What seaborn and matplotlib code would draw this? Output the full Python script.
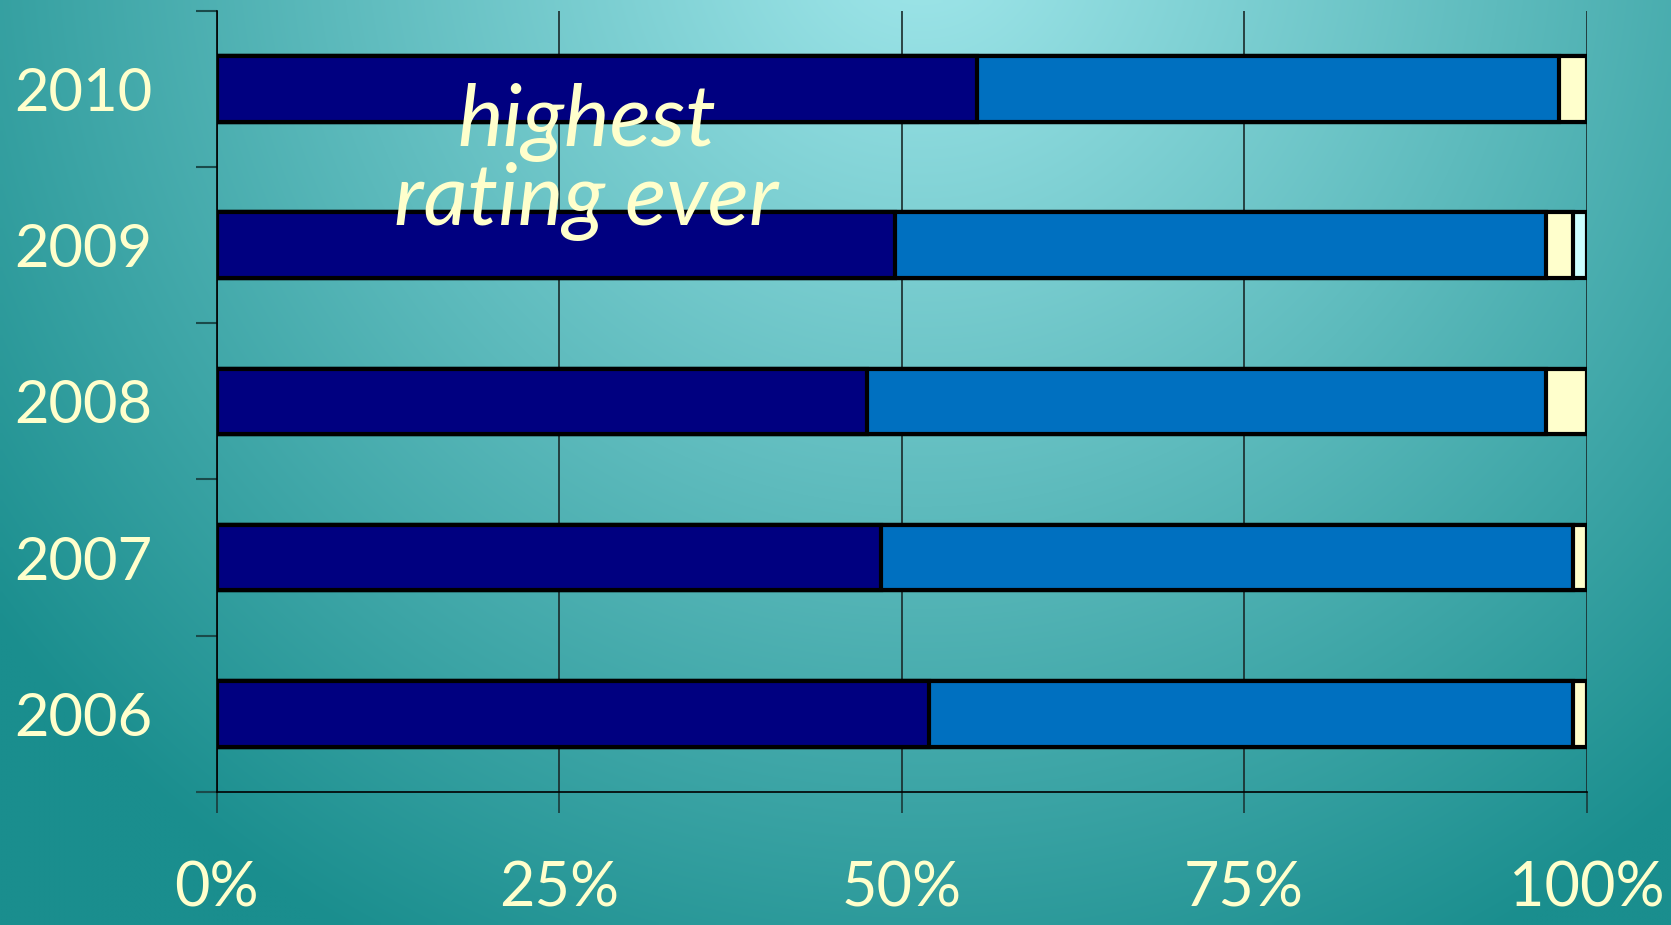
import numpy as np
import pandas as pd
import matplotlib
matplotlib.use("Agg")
import matplotlib.pyplot as plt
from matplotlib.colors import to_rgb
import seaborn as sns

# Survey ratings by year (percent of respondents)
years = ["2010", "2009", "2008", "2007", "2006"]
excellent = [55.5, 49.5, 47.5, 48.5, 52.0]
good = [42.5, 47.5, 49.5, 50.5, 47.0]
fair = [2.0, 2.0, 3.0, 1.0, 1.0]
poor = [0.0, 1.0, 0.0, 0.0, 0.0]
x_ticks = [0, 25, 50, 75, 100]
x_tick_labels = ["0%", "25%", "50%", "75%", "100%"]
note_text = "highest\nrating ever"

seg_colors = ["#000080", "#0070C0", "#FFFFCC", "#CCFFFF"]
text_color = "#FFFFCC"

sns.set_theme(style="white")
plt.rcParams["font.family"] = ["Lato", "DejaVu Sans"]

fig = plt.figure(figsize=(16.71, 9.25), dpi=100)

# Teal radial background, light near the top centre
bg = fig.add_axes([0, 0, 1, 1], zorder=-10)
H, W = 185, 334
yy, xx = np.mgrid[0:H, 0:W]
cx, cy = 0.55 * W, -0.08 * H
d = np.sqrt(((xx - cx) / W * 1.8) ** 2 + ((yy - cy) / H) ** 2)
d = np.clip(d / 1.25, 0, 1)
c0 = np.array(to_rgb("#A2E8EC"))
c1 = np.array(to_rgb("#1A8E8E"))
img = c0[None, None, :] * (1 - d[..., None]) + c1[None, None, :] * d[..., None]
bg.imshow(img, extent=[0, 1, 0, 1], aspect="auto", interpolation="bilinear")
bg.set_axis_off()

ax = fig.add_axes([0.1296, 0.1438, 0.8199, 0.8446])
ax.set_facecolor("none")

df = pd.DataFrame({"year": years, "excellent": excellent, "good": good,
                   "fair": fair, "poor": poor})
segs = ["excellent", "good", "fair", "poor"]
cum = df[segs].cumsum(axis=1)

# Stack by layering cumulative totals, widest first
for i in range(len(segs) - 1, -1, -1):
    col = segs[i]
    sns.barplot(x=cum[col], y=df["year"], order=years, orient="h",
                color=seg_colors[i], saturation=1, width=0.42,
                edgecolor="black", linewidth=3, ax=ax, zorder=3 + (3 - i))

ax.set_xlim(0, 100)
ax.set_ylim(4.5, -0.5)
ax.set_xlabel("")
ax.set_ylabel("")

ax.set_xticks(x_ticks)
ax.set_xticklabels(x_tick_labels)
ax.xaxis.grid(True, color="#1a2a2a", linewidth=1.2, zorder=1)
ax.tick_params(axis="x", which="major", direction="out", length=15, width=1.2,
               color="#1a3a3a", pad=34, labelsize=44, labelcolor=text_color,
               bottom=True)

ax.set_yticks(range(len(years)))
ax.set_yticklabels(years)
ax.set_yticks(np.arange(-0.5, len(years), 1.0), minor=True)
ax.tick_params(axis="y", which="major", length=0, pad=46, labelsize=43,
               labelcolor=text_color)
ax.tick_params(axis="y", which="minor", direction="out", length=15, width=1.5,
               color="#1a4a4a", left=True)

for s in ["top", "right"]:
    ax.spines[s].set_visible(False)
for s in ["left", "bottom"]:
    ax.spines[s].set_color("black")
    ax.spines[s].set_linewidth(1.2)

ax.text(27.0, 0.47, note_text, ha="center", va="center", fontsize=62,
        style="italic", color=text_color, linespacing=1.0, zorder=10)

fig.savefig("out.png", dpi=100)
